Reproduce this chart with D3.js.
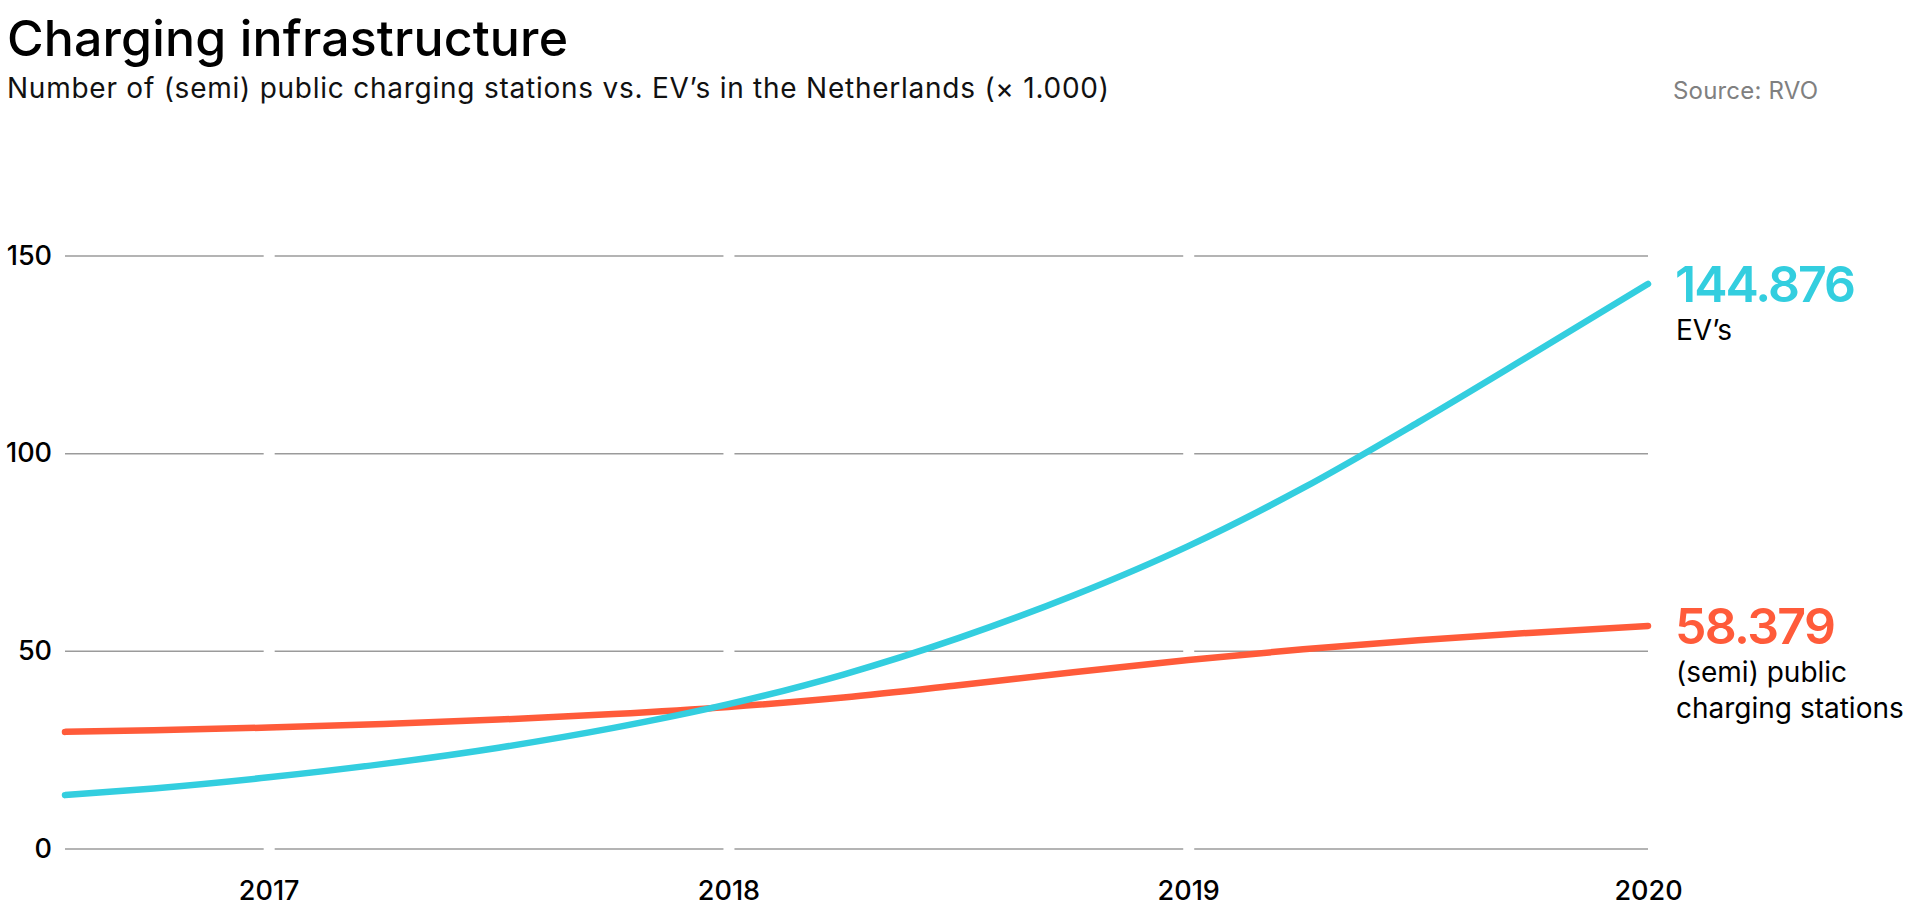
<!DOCTYPE html>
<html>
<head>
<meta charset="utf-8">
<script src="https://cdn.jsdelivr.net/npm/d3@7"></script>
<style>
  html, body { margin: 0; padding: 0; background: #fff; }
  svg { display: block; font-family: Inter, "Noto Sans", sans-serif; }
</style>
</head>
<body>
<svg id="chart" width="1920" height="921"></svg>
<script>
// data (x in decimal years, y in thousands)
const evYears    = [2016.557, 2016.75, 2017, 2017.25, 2017.5, 2017.75, 2018, 2018.25, 2018.5, 2018.75, 2019, 2019.25, 2019.5, 2019.75, 2020];
const evValues   = [13.5, 15.2, 18.0, 21.4, 25.5, 30.5, 36.5, 44.0, 53.2, 64.0, 76.5, 91.2, 107.8, 125.2, 142.8];
const cpYears    = [2016.557, 2016.75, 2017, 2017.25, 2017.5, 2017.75, 2018, 2018.25, 2018.5, 2018.75, 2019, 2019.25, 2019.5, 2019.75, 2020];
const cpValues   = [29.5, 29.9, 30.6, 31.5, 32.6, 34.0, 35.8, 38.2, 41.3, 44.6, 47.7, 50.4, 52.7, 54.6, 56.3];
const yearTicks  = [2017, 2018, 2019, 2020];
const valueTicks = [0, 50, 100, 150];
const endLabels  = ["144.876", "58.379"];
const seriesNames = [["EV’s"], ["(semi) public", "charging stations"]];

const title = "Charging infrastructure";
const subtitle = "Number of (semi) public charging stations vs. EV’s in the Netherlands (× 1.000)";
const source = "Source: RVO";

const cyan = "#33cedf";
const orange = "#ff5b3a";

const svg = d3.select("#chart");

const x = d3.scaleLinear().domain([2016.557, 2020]).range([65, 1648]);
const y = d3.scaleLinear().domain([0, 150]).range([848.5, 255.5]);

// fit a text to a width by letter spacing
function fit(sel, w) {
  const n = sel.text().length;
  const l = sel.node().getComputedTextLength();
  sel.attr("letter-spacing", (w - l) / (n - 1));
}

// header
svg.append("text")
  .attr("x", 7).attr("y", 56)
  .attr("font-size", 50).attr("font-weight", 500)
  .attr("fill", "#000")
  .text(title)
  .call(fit, 561);

svg.append("text")
  .attr("x", 7).attr("y", 98)
  .attr("font-size", 28)
  .attr("fill", "#111")
  .text(subtitle)
  .call(fit, 1102);

svg.append("text")
  .attr("x", 1673).attr("y", 99)
  .attr("font-size", 24)
  .attr("fill", "#808080")
  .text(source)
  .call(fit, 145);

// horizontal grid
const yGrid = d3.axisLeft(y).tickValues(valueTicks).tickSize(-(1648 - 65)).tickFormat("");
svg.append("g")
  .attr("transform", "translate(65,0)")
  .call(yGrid)
  .call(g => g.select(".domain").remove())
  .call(g => g.selectAll("line").attr("stroke", "#9b9b9b").attr("stroke-width", 1.5));

// white gaps at the years
const xGap = d3.axisBottom(x).tickValues(yearTicks.slice(0, -1)).tickSize(-(y(0) - y(150) + 6)).tickFormat("");
svg.append("g")
  .attr("transform", `translate(0,${y(0) + 3})`)
  .call(xGap)
  .call(g => g.select(".domain").remove())
  .call(g => g.selectAll("line").attr("stroke", "#fff").attr("stroke-width", 11));

// y labels
const yAxis = d3.axisLeft(y).tickValues(valueTicks).tickSize(0).tickPadding(0);
svg.append("g")
  .attr("transform", "translate(52,0)")
  .call(yAxis)
  .call(g => g.select(".domain").remove())
  .call(g => g.selectAll("text")
    .attr("font-family", "Inter, sans-serif")
    .attr("font-size", 27).attr("font-weight", 500)
    .attr("fill", "#000"));

// x labels
const xAxis = d3.axisBottom(x).tickValues(yearTicks).tickSize(0).tickPadding(0).tickFormat(d3.format("d"));
svg.append("g")
  .attr("transform", "translate(0,881)")
  .call(xAxis)
  .call(g => g.select(".domain").remove())
  .call(g => g.selectAll("text")
    .attr("font-family", "Inter, sans-serif")
    .attr("font-size", 27).attr("font-weight", 500)
    .attr("fill", "#000"));

// lines
const line = d3.line()
  .x(d => x(d[0]))
  .y(d => y(d[1]))
  .curve(d3.curveMonotoneX);

const series = [
  { pts: d3.zip(cpYears, cpValues), color: orange },
  { pts: d3.zip(evYears, evValues), color: cyan }
];

svg.append("g")
  .selectAll("path")
  .data(series)
  .enter()
  .append("path")
  .attr("d", d => line(d.pts))
  .attr("fill", "none")
  .attr("stroke", d => d.color)
  .attr("stroke-width", 6.5)
  .attr("stroke-linecap", "round")
  .attr("stroke-linejoin", "round");

// end labels
const ends = [
  { v: evValues[evValues.length - 1], label: endLabels[0], names: seriesNames[0], color: cyan, w: 181 },
  { v: cpValues[cpValues.length - 1], label: endLabels[1], names: seriesNames[1], color: orange, w: 161 }
];

ends.forEach(e => {
  const base = y(e.v) + 18;
  svg.append("text")
    .attr("x", 1675).attr("y", base)
    .attr("font-size", 50).attr("font-weight", 600)
    .attr("fill", e.color)
    .text(e.label)
    .call(fit, e.w);
  e.names.forEach((n, i) => {
    svg.append("text")
      .attr("x", 1676).attr("y", base + 38 + i * 36)
      .attr("font-size", 28)
      .attr("fill", "#000")
      .text(n);
  });
});
</script>
</body>
</html>
